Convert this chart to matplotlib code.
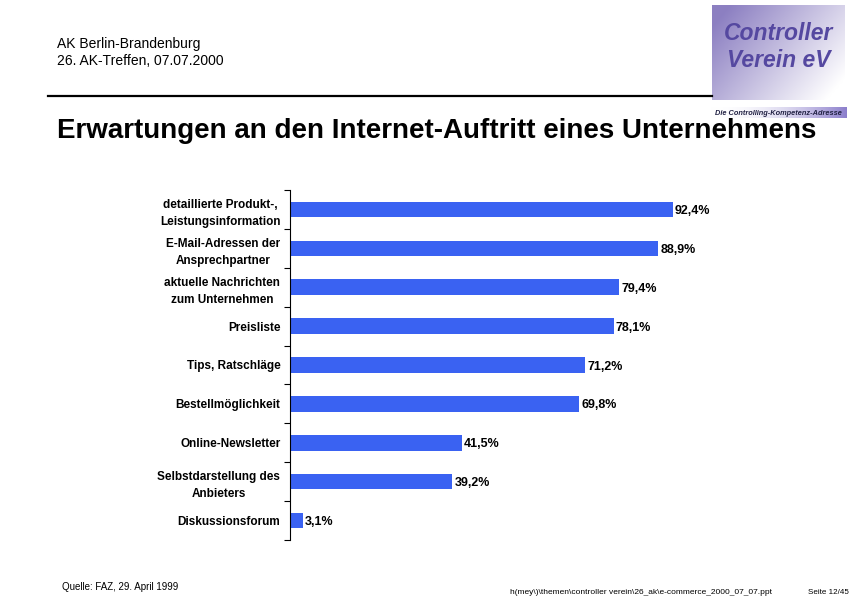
import numpy as np
import matplotlib.pyplot as plt
from matplotlib.ticker import FixedLocator

plt.rcParams['font.family'] = ['Liberation Sans', 'DejaVu Sans']

kategorien = ['detaillierte Produkt-,\nLeistungsinformation',
              'E-Mail-Adressen der\nAnsprechpartner',
              'aktuelle Nachrichten\nzum Unternehmen',
              'Preisliste',
              'Tips, Ratschläge',
              'Bestellmöglichkeit',
              'Online-Newsletter',
              'Selbstdarstellung des\nAnbieters',
              'Diskussionsforum']
werte = [92.4, 88.9, 79.4, 78.1, 71.2, 69.8, 41.5, 39.2, 3.1]
wert_texte = ['92,4%', '88,9%', '79,4%', '78,1%', '71,2%', '69,8%', '41,5%', '39,2%', '3,1%']

fig = plt.figure(figsize=(8.55, 6), dpi=100)

# Kopfzeile
fig.text(57/855, 1-44/600, 'AK Berlin-Brandenburg', fontsize=10, va='center')
fig.text(57/855, 1-61/600, '26. AK-Treffen, 07.07.2000', fontsize=10, va='center')
fig.add_artist(plt.Line2D([48/855, 712/855], [1-96/600, 1-96/600], color='black', lw=1.6))
fig.text(57/855, 1-131/600, 'Erwartungen an den Internet-Auftritt eines Unternehmens',
         fontsize=20, fontweight='bold', va='center')

# Logo
logo = fig.add_axes([712/855, 1-100/600, 133/855, 95/600])
gx, gy = np.meshgrid(np.linspace(0, 1, 100), np.linspace(0, 1, 80))
g = np.clip(0.75*gx + 0.45*(1-gy) - 0.1, 0, 1)
lila = np.array([0.55, 0.50, 0.76])
img = lila[None, None, :]*(1-g[..., None]) + np.ones(3)[None, None, :]*g[..., None]
logo.imshow(img, aspect='auto', extent=[0, 1, 0, 1], origin='lower')
logo.text(0.5, 0.70, 'Controller', color='#5548a0', fontsize=16.5, fontweight='bold',
          style='italic', ha='center', va='center')
logo.text(0.5, 0.42, 'Verein eV', color='#5548a0', fontsize=16.5, fontweight='bold',
          style='italic', ha='center', va='center')
logo.set_axis_off()
streifen = fig.add_axes([710/855, 1-118/600, 137/855, 11/600])
sx = np.linspace(0, 1, 100)[None, :]
simg = np.stack([1-0.45*sx**2, 1-0.5*sx**2, 1-0.2*sx**2], axis=-1)
streifen.imshow(simg, aspect='auto', extent=[0, 1, 0, 1])
streifen.text(0.5, 0.45, 'Die Controlling-Kompetenz-Adresse', fontsize=5.3, style='italic',
              fontweight='bold', color='#222244', ha='center', va='center')
streifen.set_axis_off()

# Diagramm
ax = fig.add_axes([290/855, 1-540/600, (704.5-290)/855, 350/600])
y = np.arange(len(kategorien))
ax.barh(y, werte, height=0.4, color='#3a62f2')
for yi, w, t in zip(y, werte, wert_texte):
    ax.text(w + 0.5, yi + 0.04, t, fontsize=9, fontweight='bold', va='center', ha='left')
ax.set_xlim(0, 100)
ax.set_ylim(len(kategorien)-0.5, -0.5)
ax.set_yticks(y)
ax.set_yticklabels(kategorien, fontsize=8.5, fontweight='bold', ha='right',
                   multialignment='center', linespacing=1.55)
ax.tick_params(axis='y', which='major', length=0, pad=7)
ax.yaxis.set_minor_locator(FixedLocator(np.arange(-0.5, len(kategorien), 1)))
ax.tick_params(axis='y', which='minor', length=4, direction='out', width=0.8)
ax.set_xticks([])
for s in ['top', 'right', 'bottom']:
    ax.spines[s].set_visible(False)
ax.spines['left'].set_linewidth(0.8)

# Fusszeile
fig.text(62/855, 1-587/600, 'Quelle: FAZ, 29. April 1999', fontsize=7, va='center')
fig.text(510/855, 1-592/600, 'h(mey\\)\\themen\\controller verein\\26_ak\\e-commerce_2000_07_07.ppt',
         fontsize=6, va='center')
fig.text(808/855, 1-592/600, 'Seite 12/45', fontsize=5.8, va='center')

fig.savefig('out.png', dpi=100)
